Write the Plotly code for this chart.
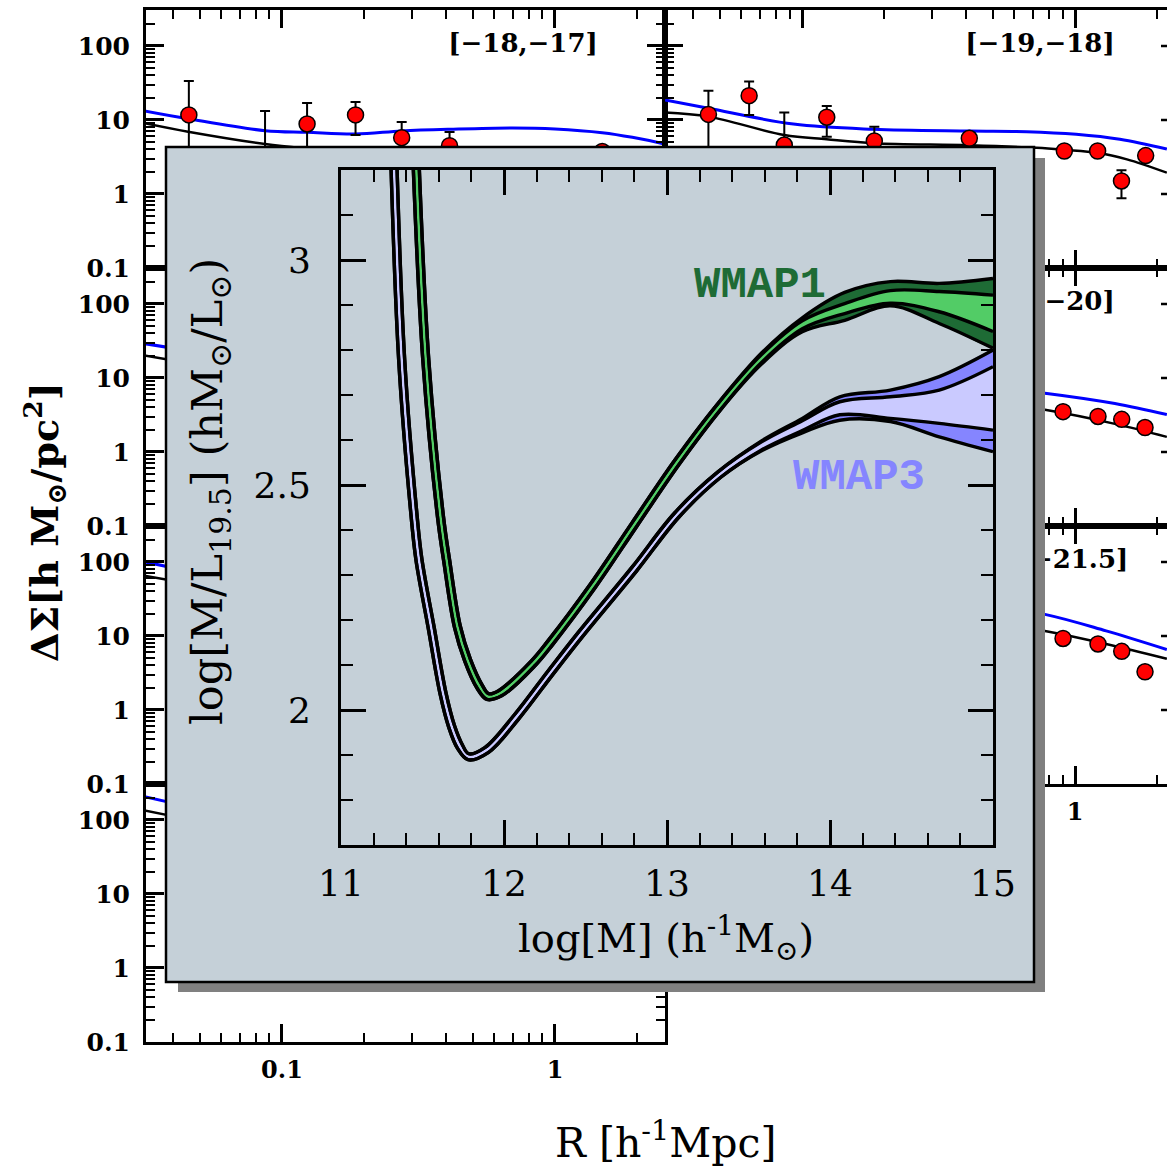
import plotly.graph_objects as go

W, H = 1167, 1167


def pxx(p):
    return p / W


def pxy(p):
    return 1 - p / H


# ---------------- background lensing panels (R in h^-1 Mpc, DeltaSigma in h Msun/pc^2) ----------------
# [-18,-17]  (row 1, left)
A_R = [0.0456, 0.0867, 0.1236, 0.186, 0.2745, 0.411, 1.49]
A_DS = [11.7, 2.9, 8.84, 11.7, 5.77, 4.5, 3.75]
A_UP = [33.6, 13.2, 17.0, 17.5, 9.4, 6.9, 4.15]
A_DN = [3.5, 1.0, 3.0, 6.26, 3.4, 2.8, 3.35]
A_BLK_R = [0.0316, 0.0453, 0.0867, 0.1236, 0.186, 0.2745, 0.411, 0.70, 1.0, 1.49, 2.45, 2.55]
A_BLK = [9.0, 6.95, 4.74, 4.1, 3.6, 3.3, 3.1, 3.0, 2.8, 2.5, 2.05, 2.0]
A_BLU_R = [0.0316, 0.0453, 0.0867, 0.1236, 0.186, 0.2745, 0.411, 0.70, 1.0, 1.49, 1.92, 2.45, 2.55]
A_BLU = [13.2, 10.4, 7.17, 6.82, 6.47, 7.1, 7.48, 7.8, 7.56, 6.73, 5.83, 4.84, 4.65]

# [-19,-18]  (row 1, right)
B_R = [0.0454, 0.064, 0.0861, 0.1232, 0.184, 0.41, 0.914, 1.21, 1.48, 1.815]
B_DS = [11.9, 21.3, 4.59, 10.9, 5.2, 5.66, 3.81, 3.81, 1.5, 3.3]
B_UP = [24.9, 33.0, 12.6, 15.5, 8.1, 6.05, 4.1, 4.1, 2.1, 3.55]
B_DN = [3.0, 11.7, 2.0, 5.94, 3.0, 5.27, 3.52, 3.52, 0.875, 3.05]
B_BLK_R = [0.0315, 0.0454, 0.086, 0.123, 0.184, 0.41, 0.724, 0.914, 1.21, 1.55, 2.17]
B_BLK = [12.6, 11.1, 6.27, 5.48, 4.84, 4.55, 4.2, 3.95, 3.6, 2.94, 1.94]
B_BLU_R = [0.0315, 0.0454, 0.093, 0.1824, 0.412, 0.665, 1.01, 1.46, 2.17]
B_BLU = [18.6, 14.4, 8.8, 7.48, 7.1, 6.95, 6.4, 5.48, 4.05]

# row 2, left
C_FIT_R = [0.0316, 0.05, 0.1, 0.2, 0.5, 1.0, 2.55]
C_BLK = [20, 15, 9.5, 6.5, 4.5, 3.5, 2.2]
C_BLU = [29, 22, 14, 9, 6, 5, 3.2]

# [-21,-20]  (row 2, right)
D_R = [0.904, 1.214, 1.483, 1.805]
D_DS = [3.51, 3.02, 2.76, 2.14]
D_FIT_R = [0.0315, 0.1, 0.3, 0.776, 1.40, 2.17]
D_BLK = [30, 12, 6, 3.72, 2.40, 1.60]
D_BLU = [40, 17, 9, 6.24, 4.52, 3.2]

# row 3, left
E_FIT_R = [0.0316, 0.05, 0.1, 0.2, 0.5, 1.0, 2.55]
E_BLK = [65, 48, 30, 17, 9, 6, 3.5]
E_BLU = [100, 70, 40, 22, 12, 8, 5]

# [-22,-21.5]  (row 3, right)
F_R = [0.904, 1.214, 1.483, 1.805]
F_DS = [9.25, 7.8, 6.2, 3.28]
F_FIT_R = [0.0315, 0.1, 0.3, 0.776, 1.30, 2.17]
F_BLK = [100, 45, 20, 11.7, 7.8, 4.92]
F_BLU = [150, 70, 35, 19.6, 11.7, 6.55]

# row 4, left
G_FIT_R = [0.0316, 0.05, 0.1, 0.2, 0.5, 1.0, 2.55]
G_BLK = [134, 95, 55, 30, 15, 9, 5]
G_BLU = [205, 140, 80, 45, 22, 13, 7]

# tick labels
Y_TICKS = [0.1, 1, 10, 100]
Y_TICKTEXT = ["0.1", "1", "10", "100"]
Y_MINOR = [0.2, 0.3, 0.4, 0.5, 0.6, 0.7, 0.8, 0.9, 2, 3, 4, 5, 6, 7, 8, 9,
           20, 30, 40, 50, 60, 70, 80, 90, 200, 300]
X_TICKS = [0.1, 1]
X_TICKTEXT = ["0.1", "1"]
X_MINOR = [0.04, 0.05, 0.06, 0.07, 0.08, 0.09, 0.2, 0.3, 0.4, 0.5, 0.6, 0.7, 0.8, 0.9,
           2, 3, 4, 5, 6, 7, 8, 9]

# ---------------- inset: log(M/L) vs log M ----------------
# WMAP1: thin (overlapping) part of the band, upper/inner and lower/outer edge
W1_THIN_HI_M = [11.4785, 11.5386, 11.6288, 11.6661, 11.7321, 11.7932, 11.8664, 11.9058, 11.9640,
                12.1664, 12.2707, 12.5280, 12.7848, 13.0452, 13.3060]
W1_THIN_HI_V = [3.2203, 2.7782, 2.4296, 2.3338, 2.1862, 2.1136, 2.0552, 2.0363, 2.0423,
                2.1086, 2.1541, 2.2788, 2.4159, 2.5539, 2.6782]
W1_THIN_LO_M = [11.4417, 11.5019, 11.5922, 11.6296, 11.6961, 11.7590, 11.8342, 11.8942, 11.9857,
                12.1931, 12.2999, 12.5579, 12.8152, 13.0750, 13.3345]
W1_THIN_LO_V = [3.2197, 2.7773, 2.4282, 2.3320, 2.1835, 2.1087, 2.0488, 2.0237, 2.0315,
                2.0994, 2.1459, 2.2710, 2.4084, 2.5461, 2.6698]
W1_TAIL_M = [13.58, 13.83, 14.09, 14.37, 14.67, 15.0]
W1_OUT_HI = [2.7932, 2.8716, 2.928, 2.952, 2.948, 2.959]
W1_IN_HI = [2.7899, 2.865, 2.903, 2.932, 2.930, 2.922]
W1_IN_LO = [2.7721, 2.847, 2.881, 2.904, 2.885, 2.841]
W1_OUT_LO = [2.7688, 2.8404, 2.866, 2.898, 2.859, 2.804]

# WMAP3
W3_THIN_HI_M = [11.3399, 11.3908, 11.4674, 11.4967, 11.5703, 11.6438, 11.6967, 11.7461, 11.7833,
                11.8821, 12.0637, 12.2677, 12.4520, 12.7857, 13.0464, 13.3086]
W3_THIN_HI_V = [3.2503, 2.7782, 2.4295, 2.3343, 2.1863, 2.0385, 1.9649, 1.9217, 1.9028,
                1.9162, 1.9894, 2.0856, 2.1709, 2.3175, 2.4378, 2.5280]
W3_THIN_LO_M = [11.3031, 11.3540, 11.4307, 11.4603, 11.5341, 11.6077, 11.6616, 11.7140, 11.7787,
                11.9056, 12.0921, 12.2967, 12.4806, 12.8143, 13.0738, 13.3319]
W3_THIN_LO_V = [3.2497, 2.7774, 2.4283, 2.3323, 2.1839, 2.0357, 1.9609, 1.9152, 1.8896,
                1.9060, 1.9809, 2.0775, 2.1625, 2.3092, 2.4289, 2.5177]
W3_TAIL_M = [13.58, 13.83, 14.06, 14.37, 14.67, 15.0]
W3_OUT_HI = [2.598, 2.648, 2.696, 2.711, 2.741, 2.800]
W3_IN_HI = [2.596, 2.643, 2.685, 2.696, 2.711, 2.763]
W3_IN_LO = [2.578, 2.621, 2.656, 2.648, 2.637, 2.622]
W3_OUT_LO = [2.576, 2.616, 2.644, 2.641, 2.607, 2.574]

INSET_XT = [11, 12, 13, 14, 15]
INSET_XT_TEXT = ["11", "12", "13", "14", "15"]
INSET_XMINOR = [11.2, 11.4, 11.6, 11.8, 12.2, 12.4, 12.6, 12.8, 13.2, 13.4, 13.6, 13.8,
                14.2, 14.4, 14.6, 14.8]
INSET_YT = [2, 2.5, 3]
INSET_YT_TEXT = ["2", "2.5", "3"]
INSET_YMINOR = [1.8, 1.9, 2.1, 2.2, 2.3, 2.4, 2.6, 2.7, 2.8, 2.9, 3.1]

# ---------------- styles ----------------
BLUE = "#0000ff"
DARK_GREEN = "#1e6b35"
LIGHT_GREEN = "#52cc66"
DARK_BLUE = "#8585ff"
LIGHT_BLUE = "#cacaff"
BOX = "#c5d0d8"
SHADOW = "#808080"
SERIF = "DejaVu Serif"

LEFT_X = [pxx(146), pxx(665)]
RIGHT_X = [pxx(665), 1.0]
ROWS = [(10, 268), (268, 526), (526, 784), (784, 1042)]
LEFT_RANGE = [-1.498, 0.403]
RIGHT_RANGE = [-1.502, 0.337]
Y_RANGE = [-1.0, 2.486]

panels = [
    dict(col="L", row=0, blk=(A_BLK_R, A_BLK), blu=(A_BLU_R, A_BLU),
         pts=(A_R, A_DS, A_UP, A_DN), label="[−18,−17]", xlab=False),
    dict(col="R", row=0, blk=(B_BLK_R, B_BLK), blu=(B_BLU_R, B_BLU),
         pts=(B_R, B_DS, B_UP, B_DN), label="[−19,−18]", xlab=False),
    dict(col="L", row=1, blk=(C_FIT_R, C_BLK), blu=(C_FIT_R, C_BLU),
         pts=None, label=None, xlab=False),
    dict(col="R", row=1, blk=(D_FIT_R, D_BLK), blu=(D_FIT_R, D_BLU),
         pts=(D_R, D_DS, None, None), label="[−21,−20]", xlab=False),
    dict(col="L", row=2, blk=(E_FIT_R, E_BLK), blu=(E_FIT_R, E_BLU),
         pts=None, label=None, xlab=False),
    dict(col="R", row=2, blk=(F_FIT_R, F_BLK), blu=(F_FIT_R, F_BLU),
         pts=(F_R, F_DS, None, None), label="[−22,−21.5]", xlab=True),
    dict(col="L", row=3, blk=(G_FIT_R, G_BLK), blu=(G_FIT_R, G_BLU),
         pts=None, label=None, xlab=True),
]

fig = go.Figure()
layout = {}
tickfont_bg = dict(family=SERIF, size=25, color="black", weight="bold")

for i, p in enumerate(panels):
    n = i + 1
    xs = "" if n == 1 else str(n)
    xref, yref = "x" + xs, "y" + xs
    top, bot = ROWS[p["row"]]
    left = p["col"] == "L"
    layout["xaxis" + xs] = dict(
        domain=LEFT_X if left else RIGHT_X, type="log",
        range=LEFT_RANGE if left else RIGHT_RANGE, anchor=yref, automargin=False,
        showline=True, linewidth=3, linecolor="black", mirror="ticks",
        ticks="inside", ticklen=18, tickwidth=2.5, tickcolor="black",
        tickmode="array", tickvals=X_TICKS, ticktext=X_TICKTEXT,
        minor=dict(ticks="inside", ticklen=9, tickwidth=2, tickcolor="black",
                   tickmode="array", tickvals=X_MINOR, showgrid=False),
        showgrid=False, zeroline=False, showticklabels=p["xlab"],
        tickfont=dict(tickfont_bg, size=24), ticklabelstandoff=4,
    )
    layout["yaxis" + xs] = dict(
        domain=[pxy(bot), pxy(top)], type="log", range=Y_RANGE, anchor=xref, automargin=False,
        showline=True, linewidth=3, linecolor="black",
        mirror="ticks" if left else False,
        ticks="inside", ticklen=18, tickwidth=2.5, tickcolor="black",
        tickmode="array", tickvals=Y_TICKS, ticktext=Y_TICKTEXT,
        minor=dict(ticks="inside", ticklen=9, tickwidth=2, tickcolor="black",
                   tickmode="array", tickvals=Y_MINOR, showgrid=False),
        showgrid=False, zeroline=False, showticklabels=left,
        tickfont=tickfont_bg, ticklabelstandoff=8,
    )
    fig.add_trace(go.Scatter(x=p["blu"][0], y=p["blu"][1], mode="lines",
                             line=dict(color=BLUE, width=3, shape="spline"),
                             xaxis=xref, yaxis=yref, hoverinfo="skip"))
    fig.add_trace(go.Scatter(x=p["blk"][0], y=p["blk"][1], mode="lines",
                             line=dict(color="black", width=2.5, shape="spline"),
                             xaxis=xref, yaxis=yref, hoverinfo="skip"))
    if p["pts"] is not None:
        r, v, up, dn = p["pts"]
        err = None
        if up is not None:
            err = dict(type="data", symmetric=False,
                       array=[u - a for u, a in zip(up, v)],
                       arrayminus=[a - d for a, d in zip(v, dn)],
                       color="black", thickness=2, width=5)
        fig.add_trace(go.Scatter(x=r, y=v, mode="markers", error_y=err,
                                 marker=dict(size=16, color="#ff0000",
                                             line=dict(color="black", width=1.5)),
                                 xaxis=xref, yaxis=yref, hoverinfo="skip"))
    if p["label"]:
        fig.add_trace(go.Scatter(x=[0.764 if left else 0.744], y=[103 if p["row"] == 0 else 101],
                                 mode="text", text=[p["label"]], textposition="middle center",
                                 textfont=dict(family=SERIF, size=26, color="black", weight="bold"),
                                 xaxis=xref, yaxis=yref, hoverinfo="skip"))

# ---------------- inset box (own subplot so it lies above the panels) ----------------
layout["xaxis8"] = dict(domain=[pxx(160), pxx(1050)], range=[160, 1050], visible=False,
                        anchor="y8", fixedrange=True, automargin=False)
layout["yaxis8"] = dict(domain=[pxy(1000), pxy(140)], range=[1000, 140], visible=False,
                        anchor="x8", fixedrange=True, automargin=False)
fig.add_trace(go.Scatter(x=[None], y=[None], mode="markers", xaxis="x8", yaxis="y8",
                         hoverinfo="skip"))
shapes = [
    dict(type="rect", xref="x8", yref="y8", x0=178, x1=1045, y0=158, y1=992,
         fillcolor=SHADOW, line=dict(width=0), layer="below"),
    dict(type="rect", xref="x8", yref="y8", x0=166, x1=1034, y0=147, y1=982,
         fillcolor=BOX, line=dict(color="black", width=2.5), layer="below"),
]

# off-image right-axis tick stubs of the right-hand column
for py in [46, 120, 194, 304, 378, 452, 562, 636, 710]:
    shapes.append(dict(type="line", xref="paper", yref="paper", x0=pxx(1161), x1=1.0,
                       y0=pxy(py), y1=pxy(py), line=dict(color="black", width=2.5),
                       layer="above"))

# ---------------- inset plot ----------------
layout["xaxis9"] = dict(
    domain=[pxx(341), pxx(993)], range=[11, 15], anchor="y9", automargin=False,
    showline=True, linewidth=3, linecolor="black", mirror="ticks",
    ticks="inside", ticklen=25, tickwidth=2.5, tickcolor="black",
    tickmode="array", tickvals=INSET_XT, ticktext=INSET_XT_TEXT,
    minor=dict(ticks="inside", ticklen=12, tickwidth=2, tickcolor="black",
               tickmode="array", tickvals=INSET_XMINOR, showgrid=False),
    showgrid=False, zeroline=False,
    tickfont=dict(family=SERIF, size=36, color="black"), ticklabelstandoff=5,
)
layout["yaxis9"] = dict(
    domain=[pxy(845), pxy(170)], range=[1.7, 3.2], anchor="x9", automargin=False,
    showline=True, linewidth=3, linecolor="black", mirror="ticks",
    ticks="inside", ticklen=25, tickwidth=2.5, tickcolor="black",
    tickmode="array", tickvals=INSET_YT, ticktext=INSET_YT_TEXT,
    minor=dict(ticks="inside", ticklen=12, tickwidth=2, tickcolor="black",
               tickmode="array", tickvals=INSET_YMINOR, showgrid=False),
    showgrid=False, zeroline=False,
    tickfont=dict(family=SERIF, size=36, color="black"), ticklabelstandoff=20,
)


def add_band(thin_hi_m, thin_hi_v, thin_lo_m, thin_lo_v, tail_m,
             out_hi, in_hi, in_lo, out_lo, dark, light):
    ohm = thin_hi_m + tail_m
    ohv = thin_hi_v + out_hi
    olm = thin_lo_m + tail_m
    olv = thin_lo_v + out_lo
    ihm = thin_hi_m + tail_m
    ihv = thin_hi_v + in_hi
    ilm = thin_lo_m + tail_m
    ilv = thin_lo_v + in_lo
    pad = tail_m[-1] + 0.08  # polygon closes outside the axis range
    for hm, hv, lm, lv, col in [(ohm, ohv, olm, olv, dark), (ihm, ihv, ilm, ilv, light)]:
        fig.add_trace(go.Scatter(x=hm + [pad, pad] + lm[::-1],
                                 y=hv + [hv[-1], lv[-1]] + lv[::-1], mode="lines",
                                 fill="toself", fillcolor=col,
                                 line=dict(width=0, shape="spline"),
                                 xaxis="x9", yaxis="y9", hoverinfo="skip"))
    for xm, yv in [(ohm, ohv), (ihm, ihv), (ilm, ilv), (olm, olv)]:
        fig.add_trace(go.Scatter(x=xm, y=yv, mode="lines",
                                 line=dict(color="black", width=3.4, shape="spline"),
                                 xaxis="x9", yaxis="y9", hoverinfo="skip"))


add_band(W3_THIN_HI_M, W3_THIN_HI_V, W3_THIN_LO_M, W3_THIN_LO_V, W3_TAIL_M,
         W3_OUT_HI, W3_IN_HI, W3_IN_LO, W3_OUT_LO, DARK_BLUE, LIGHT_BLUE)
add_band(W1_THIN_HI_M, W1_THIN_HI_V, W1_THIN_LO_M, W1_THIN_LO_V, W1_TAIL_M,
         W1_OUT_HI, W1_IN_HI, W1_IN_LO, W1_OUT_LO, DARK_GREEN, LIGHT_GREEN)

C = dict(xanchor="center", yanchor="middle", showarrow=False)
annotations = [
    dict(text="WMAP1", x=13.57, y=2.944, xref="x9", yref="y9", **C,
         font=dict(family="Liberation Mono", size=44, color=DARK_GREEN, weight="bold")),
    dict(text="WMAP3", x=14.18, y=2.518, xref="x9", yref="y9", **C,
         font=dict(family="Liberation Mono", size=44, color=DARK_BLUE, weight="bold")),
    dict(text="log[M] (h<sup>-1</sup>M<sub>⊙</sub>)", x=pxx(666), y=pxy(938),
         xref="paper", yref="paper", **C,
         font=dict(family=SERIF, size=40, color="black")),
    dict(text="log[M/L<sub>19.5</sub>] (hM<sub>⊙</sub>/L<sub>⊙</sub>)", x=pxx(210), y=pxy(492),
         xref="paper", yref="paper", textangle=-90, **C,
         font=dict(family=SERIF, size=43, color="black")),
    dict(text="R [h<sup>-1</sup>Mpc]", x=pxx(665), y=pxy(1140),
         xref="paper", yref="paper", **C,
         font=dict(family=SERIF, size=41, color="black")),
    dict(text="ΔΣ[h M<sub>⊙</sub>/pc<sup>2</sup>]", x=pxx(44), y=pxy(522),
         xref="paper", yref="paper", textangle=-90, **C,
         font=dict(family=SERIF, size=38, color="black", weight="bold")),
]

fig.update_layout(
    template="none",
    width=W, height=H, margin=dict(l=0, r=0, t=0, b=0, pad=0, autoexpand=False),
    paper_bgcolor="white", plot_bgcolor="rgba(0,0,0,0)", showlegend=False,
    shapes=shapes, annotations=annotations, **layout,
)

fig.write_html("out.html", config={"displayModeBar": False},
               post_script="document.body.style.margin='0px';document.body.style.padding='0px';")
